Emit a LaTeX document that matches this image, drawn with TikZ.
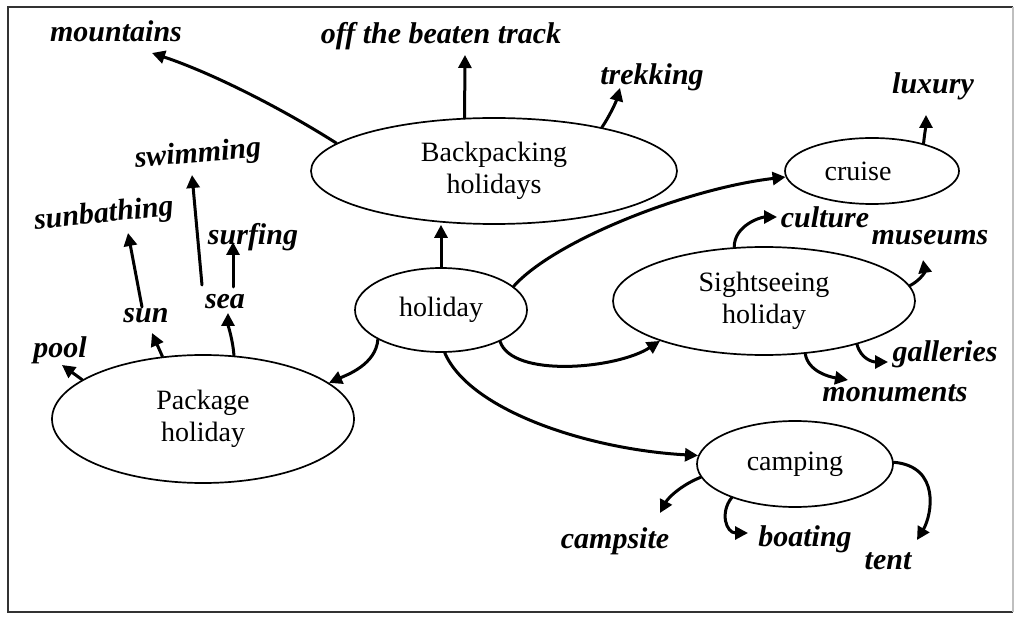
\documentclass[tikz,border=0pt]{standalone}
\usepackage{fontspec}
\setmainfont{Liberation Serif}
\newfontfamily\handfamily{Liberation Serif}[UprightFont=* Bold Italic]
\usetikzlibrary{arrows.meta,shapes.geometric}

% printed text in the bubbles, handwritten words around them
\newcommand\typedfont{\fontsize{28}{32}\selectfont}
\newcommand\handfont{\handfamily\fontsize{30}{32}\selectfont}

\tikzset{
  bubble/.style={ellipse, draw, line width=1.7pt, inner sep=0pt, align=center, font=\typedfont},
  word/.style={inner sep=0pt, font=\handfont},
  link/.style={line width=3pt, line cap=round, -{Triangle[length=13pt,width=13pt]}},
  frameline/.style={line width=2pt, draw=black!80}
}

\begin{document}
\begin{tikzpicture}[x=1pt,y=-1pt]
\useasboundingbox (0,0) rectangle (1017,617);
\fill[white] (0,0) rectangle (1017,617);

% border
\draw[frameline] (1013,7) -- (8,7) -- (8,612) -- (1013,612);
\draw[line width=1.2pt, draw=black!25] (1013,7) -- (1013,612);

% main bubbles
\node[bubble, minimum width=172pt, minimum height=84pt]  (hol) at (441,310) {holiday};
\node[bubble, minimum width=366pt, minimum height=106pt] (bp)  at (494,171) {Backpacking\\holidays};
\node[bubble, minimum width=302pt, minimum height=128pt] (pk)  at (203,419) {Package\\holiday};
\node[bubble, minimum width=174pt, minimum height=66pt]  (cr)  at (872,171) {cruise\hspace*{28pt}};
\node[bubble, minimum width=302pt, minimum height=108pt] (ss)  at (764,301) {Sightseeing\\holiday};
\node[bubble, minimum width=196pt, minimum height=86pt]  (cp)  at (795,464) {camping};

% handwritten words
\node[word] (mtn)   at (116,31.5) {mountains};
\node[word] (otbt)  at (441,36.5) {off the beaten track};
\node[word] (trek)  at (652,77)   {trekking};
\node[word] (lux)   at (933,86)   {luxury};
\node[word] (cult)  at (825,217)  {culture};
\node[word] (mus)   at (930,238)  {museums};
\node[word] (gal)   at (945,354)  {galleries};
\node[word] (mon)   at (895,393)  {monuments};
\node[word] (camps) at (615,541)  {campsite};
\node[word] (boat)  at (805,539)  {boating};
\node[word] (tent)  at (888,561)  {tent};
\node[word] (pool)  at (60,350)   {pool};
\node[word] (sun)   at (146,316)  {sun};
\node[word] (sea)   at (225,302)  {sea};
\node[word, rotate=6] (sunb) at (104,215) {sunbathing};
\node[word, rotate=5] (swim) at (198,155) {swimming};
\node[word] (surf)  at (253,237)  {surfing};

% from the centre
\draw[link] (hol.north) -- (hol.north |- bp.south);
\draw[link] (hol.205) .. controls +(-2,25) and +(18,-8) .. (pk.16);
\draw[link] (hol.18) .. controls +(42,-47) and +(-96,11) .. (cr.184);
\draw[link] (hol.332) .. controls +(12,37) and +(-43,28) .. (ss.201);
\draw[link] (hol.275) .. controls +(25,58) and +(-109,-6) .. (cp.175);

% backpacking
\draw[link] (bp.170) .. controls +(-55,-35) and +(60,20) .. ([xshift=36pt,yshift=-21.5pt]mtn.center);
\draw[link] (bp.119) -- ([xshift=24pt,yshift=-18.5pt]otbt.center);
\draw[link] (bp.22) .. controls +(8,-12) and +(-4,14) .. ([xshift=-32pt,yshift=-11pt]trek.center);

% cruise
\draw[link] (cr.28) .. controls +(1,-10) and +(0,10) .. ([xshift=-7pt,yshift=-29pt]lux.center);

% sightseeing
\draw[link] (ss.119) .. controls +(0,-22) and +(-16,0) .. ([xshift=-48pt]cult.center);
\draw[link] (ss.6) .. controls +(10,-5) and +(2,12) .. ([xshift=-7pt,yshift=-22pt]mus.center);
\draw[link] (ss.335) .. controls +(4,15) and +(-15,0) .. ([xshift=-57pt,yshift=-8pt]gal.center);
\draw[link] (ss.308) .. controls +(3,18) and +(-18,-3) .. ([xshift=-47pt,yshift=13pt]mon.center);

% camping
\draw[link] (cp.188) .. controls +(-20,8) and +(8,-15) .. ([xshift=45pt,yshift=28pt]camps.center);
\draw[link] (cp.208) .. controls +(-12,15) and +(-22,0) .. ([xshift=-57pt,yshift=6pt]boat.center);
\draw[link] (cp.1) .. controls +(47,4) and +(15,-25) .. ([xshift=29pt,yshift=21pt]tent.center);

% package holiday
\draw[link] (pk.162) -- ([xshift=2pt,yshift=-15pt]pool.center);
\draw[link] (pk.123) -- ([xshift=6pt,yshift=-17pt]sun.center);
\draw[link] (pk.64) .. controls +(-1,-15) and +(0,12) .. ([xshift=3pt,yshift=-11pt]sea.center);
\draw[link] ([xshift=-4pt,yshift=9pt]sun.center) -- ([xshift=24pt,yshift=-18pt]sunb.center);
\draw[link] ([xshift=-23pt,yshift=17pt]sea.center) -- ([xshift=-6pt,yshift=-20pt]swim.center);
\draw[link] ([xshift=8pt,yshift=15pt]sea.center) -- ([xshift=-20pt,yshift=-5pt]surf.center);
\end{tikzpicture}
\end{document}
